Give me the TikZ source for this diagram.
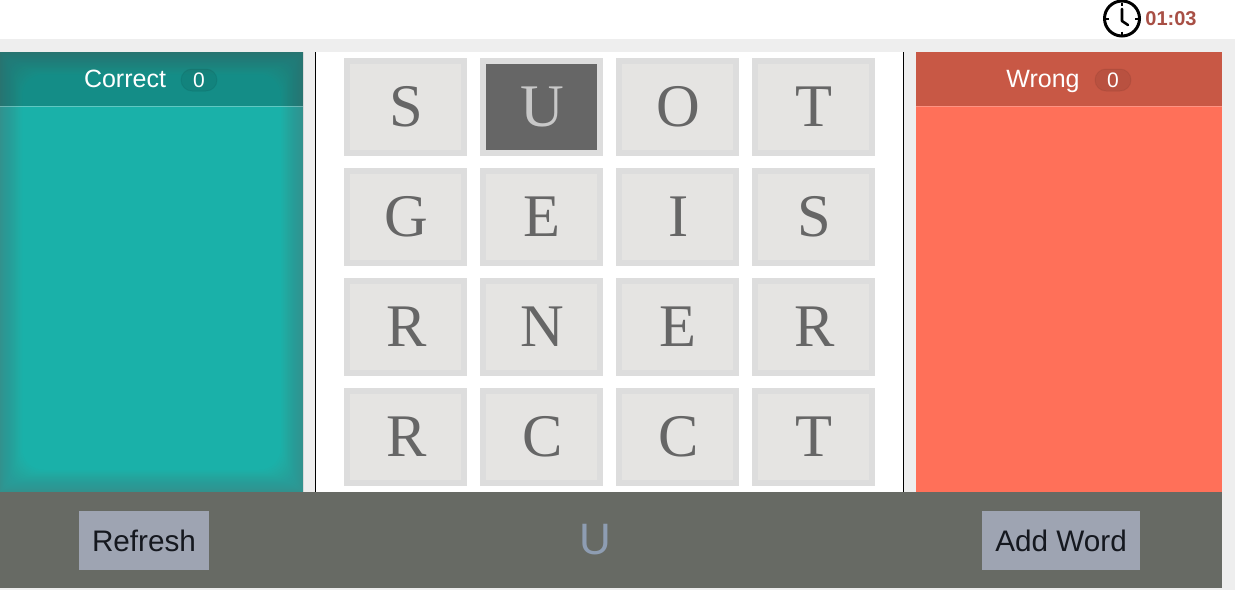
\documentclass[tikz,border=0pt]{standalone}
\usepackage{fontspec}
\setmainfont{Liberation Sans}
\newfontfamily\tileserif{Liberation Serif}
\definecolor{pagegray}{HTML}{EEEEEE}
\definecolor{tealbody}{HTML}{1AB1A9}
\definecolor{coralbody}{HTML}{FF7059}
\definecolor{coralhead}{HTML}{C85845}
\definecolor{barcolor}{HTML}{676A64}
\definecolor{btncolor}{HTML}{9EA4B2}
\definecolor{btntext}{HTML}{15181F}
\definecolor{tileedge}{HTML}{DDDDDD}
\definecolor{tilefill}{HTML}{E5E4E2}
\definecolor{tiletext}{HTML}{666666}
\definecolor{tileselect}{HTML}{666666}
\definecolor{selecttext}{HTML}{C8C8C8}
\definecolor{wordcolor}{HTML}{8E9DB2}
\definecolor{timecolor}{HTML}{A84F45}
\tikzset{
  panel/.style={anchor=north west,inner sep=0pt,outer sep=0pt,draw=none},
  tilebox/.style={panel,minimum width=117pt,minimum height=92pt,fill=tilefill,draw=tileedge,line width=6pt,
     text=tiletext,font=\tileserif\fontsize{60.5}{60}\selectfont,text height=38pt,text depth=0pt,
     execute at begin node=\hspace*{1.4pt}},
  selectedtile/.style={tilebox,fill=tileselect,text=selecttext},
  headtext/.style={text=white,font=\fontsize{25}{25}\selectfont,inner sep=0pt,anchor=base},
  pill/.style={rounded corners=11pt,minimum width=36pt,minimum height=22pt,inner sep=0pt,text=white,
     font=\fontsize{21}{21}\selectfont,text height=14.5pt,text depth=0pt},
  btn/.style={fill=btncolor,text=btntext,inner sep=0pt,minimum height=59pt,font=\fontsize{29.7}{32}\selectfont,
     text height=21pt,text depth=0pt},
}
\begin{document}
\begin{tikzpicture}[x=1pt,y=-1pt]
\useasboundingbox (0,0) rectangle (1237,590);
\fill[white] (0,0) rectangle (1237,590);
% page background
\fill[pagegray] (0,39) rectangle (1235,590);
% left panel with inset shadow
\node[panel,fill=tealbody,minimum width=303pt,minimum height=440pt] (correctbody) at (0,52) {};
\foreach \i in {1,...,22}{
  \pgfmathsetmacro{\w}{22*(\i/22)^1.4}
  \fill[black!55,opacity=0.024,even odd rule]
    (0,52) rectangle (303,492)
    {[rounded corners=\w pt] ({\w},{52+\w}) rectangle ({303-\w},{492-\w})};
}
\node[panel,fill=black,opacity=0.2,minimum width=303pt,minimum height=54pt] (correcthead) at (0,52) {};
\draw[white,opacity=0.3,line width=1pt] (correcthead.south west) -- (correcthead.south east);
\node[headtext] (correctlabel) at (125,87) {Correct};
\node[pill,fill=black,fill opacity=0.07,draw=black,draw opacity=0.06,line width=1pt,text opacity=1] (correctcount) at (199,80) {0};
% right panel
\node[panel,fill=coralbody,minimum width=306pt,minimum height=440pt] (wrongbody) at (916,52) {};
\node[panel,fill=coralhead,minimum width=306pt,minimum height=54pt] (wronghead) at (916,52) {};
\draw[white,opacity=0.25,line width=1pt] (wronghead.south west) -- (wronghead.south east);
\node[headtext] (wronglabel) at (1043,87) {Wrong};
\node[pill,fill=black,fill opacity=0.07,draw=black,draw opacity=0.06,line width=1pt,text opacity=1] (wrongcount) at (1113,80) {0};
% board
\node[panel,fill=white,minimum width=587pt,minimum height=440pt] (board) at (316,52) {};
\draw[black,line width=1pt] (board.north west) ++(-0.5,0) -- ++(0,440);
\draw[black,line width=1pt] (board.north east) ++(0.5,0) -- ++(0,440);
% tiles
\node[tilebox] (t11) at (347,61) {S};
\node[selectedtile] (t12) at (483,61) {U};
\node[tilebox] (t13) at (619,61) {O};
\node[tilebox] (t14) at (755,61) {T};
\node[tilebox] (t21) at (347,171) {G};
\node[tilebox] (t22) at (483,171) {E};
\node[tilebox] (t23) at (619,171) {I};
\node[tilebox] (t24) at (755,171) {S};
\node[tilebox] (t31) at (347,281) {R};
\node[tilebox] (t32) at (483,281) {N};
\node[tilebox] (t33) at (619,281) {E};
\node[tilebox] (t34) at (755,281) {R};
\node[tilebox] (t41) at (347,391) {R};
\node[tilebox] (t42) at (483,391) {C};
\node[tilebox] (t43) at (619,391) {C};
\node[tilebox] (t44) at (755,391) {T};
% bottom bar
\node[panel,fill=barcolor,minimum width=1222pt,minimum height=96pt] (bar) at (0,492) {};
\node[btn,minimum width=130pt] (refresh) at (144,540.5) {Refresh};
\node[btn,minimum width=158pt] (addword) at (1061,540.5) {Add Word};
\node[text=wordcolor,inner sep=0pt,font=\fontsize{44}{44}\selectfont] (word) at (595.5,540) {U};
% timer
\node[circle,draw=black,line width=3pt,minimum size=35pt,inner sep=0pt] (clock) at (1122,18.5) {};
\coordinate (hub) at (1122,21);
\draw[black,line width=2.6pt,line cap=round,line join=round] (1122,9) -- (hub) -- (1128,25);
\foreach \a in {0,90,180,270}{
  \draw[black,line width=2pt] (clock.center) ++(\a:13) -- ++(\a:3);
}
\node[text=timecolor,inner sep=0pt,font=\bfseries\fontsize{20}{20}\selectfont] (timer) at (1171,19) {01:03};
\end{tikzpicture}
\end{document}
